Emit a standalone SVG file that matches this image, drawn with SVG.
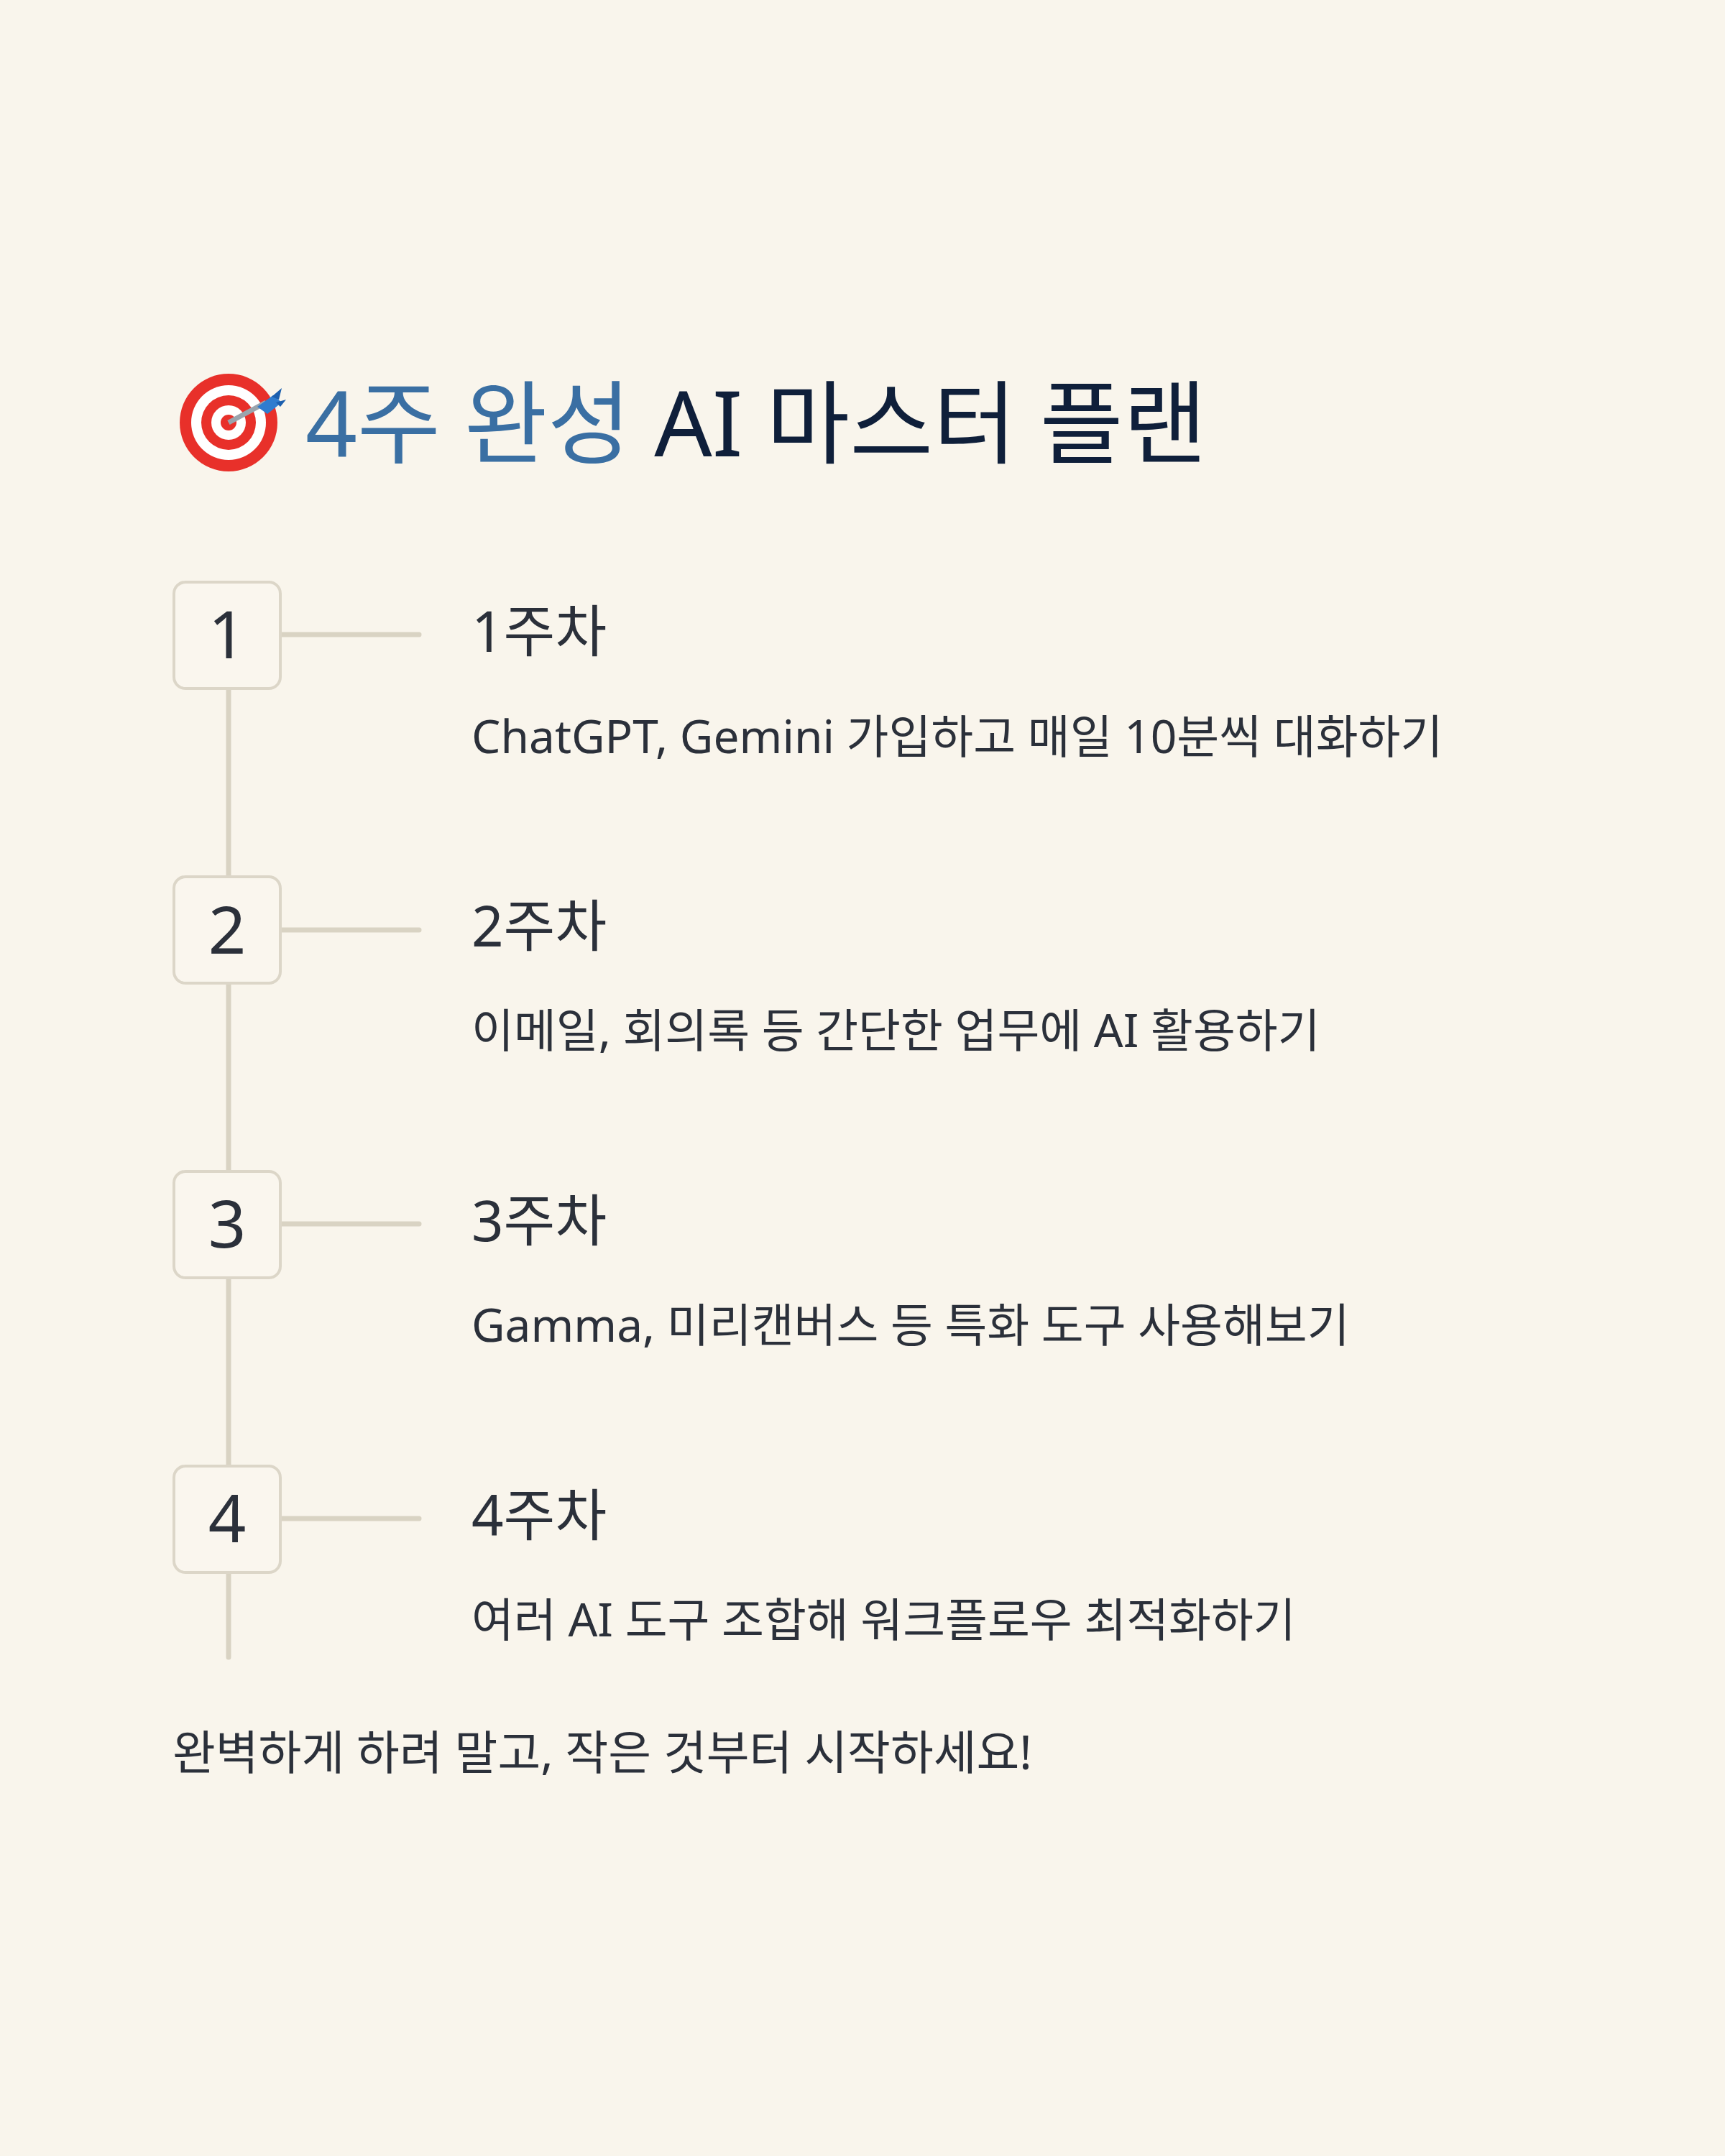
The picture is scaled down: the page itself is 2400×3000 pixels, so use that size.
<svg xmlns="http://www.w3.org/2000/svg" width="2400" height="3000" viewBox="0 0 2400 3000">
<style>
.box{fill:#faf6ee;stroke:#dcd6c8;stroke-width:4}
.ln{stroke:#d9d3c3;stroke-width:7;stroke-linecap:round;fill:none}
.num{font-family:"Noto Sans","Noto Sans CJK KR",sans-serif;font-size:92px;fill:#2b303a;text-anchor:middle}
.wk{font-family:"Noto Sans","Noto Sans CJK KR",sans-serif;font-size:78px;fill:#2b303a}
.ds{font-family:"Noto Sans","Noto Sans CJK KR",sans-serif;font-size:64px;fill:#2b303a}
.ft{font-family:"Noto Sans","Noto Sans CJK KR",sans-serif;font-size:65px;fill:#2b303a}
</style>
<rect width="2400" height="3000" fill="#f9f5ec"/>
<g id="title">
<g id="target">
<circle cx="318" cy="588" r="68" fill="#e8302a"/>
<circle cx="318" cy="588" r="52" fill="#fff"/>
<circle cx="318" cy="588" r="38" fill="#e8302a"/>
<circle cx="318" cy="588" r="24" fill="#fff"/>
<circle cx="318" cy="588" r="11" fill="#e8302a"/>
<line x1="318" y1="588" x2="370" y2="560" stroke="#9aa4ad" stroke-width="7"/>
<path d="M358 566 L380 550 L392 560 L372 576 Z" fill="#2f7ccf"/>
<path d="M378 552 L392 540 L388 556 Z M384 560 L398 556 L390 566 Z" fill="#1c5fae"/>
</g>
<text x="425" y="635" font-family="Noto Sans,'Noto Sans CJK KR',sans-serif" font-size="126" fill="#3a6fa3">4주 완성 <tspan fill="#0f1f3a">AI 마스터 플랜</tspan></text>
</g>
<g id="connectors">
<line class="ln" x1="318" y1="957" x2="318" y2="1218"/>
<line class="ln" x1="318" y1="1368" x2="318" y2="1628"/>
<line class="ln" x1="318" y1="1778" x2="318" y2="2038"/>
<line class="ln" x1="318" y1="2188" x2="318" y2="2306"/>
<line class="ln" x1="392" y1="883" x2="583" y2="883"/>
<line class="ln" x1="392" y1="1294" x2="583" y2="1294"/>
<line class="ln" x1="392" y1="1703" x2="583" y2="1703"/>
<line class="ln" x1="392" y1="2113" x2="583" y2="2113"/>
</g>
<g id="node1"><rect class="box" x="242" y="810" width="148" height="148" rx="16"/><text class="num" x="316" y="916">1</text>
<text class="wk" x="656" y="907">1주차</text><text class="ds" x="656" y="1048">ChatGPT, Gemini 가입하고 매일 10분씩 대화하기</text></g>
<g id="node2"><rect class="box" x="242" y="1220" width="148" height="148" rx="16"/><text class="num" x="316" y="1327">2</text>
<text class="wk" x="656" y="1317">2주차</text><text class="ds" x="656" y="1457">이메일, 회의록 등 간단한 업무에 AI 활용하기</text></g>
<g id="node3"><rect class="box" x="242" y="1630" width="148" height="148" rx="16"/><text class="num" x="316" y="1736">3</text>
<text class="wk" x="656" y="1727">3주차</text><text class="ds" x="656" y="1867">Gamma, 미리캔버스 등 특화 도구 사용해보기</text></g>
<g id="node4"><rect class="box" x="242" y="2040" width="148" height="148" rx="16"/><text class="num" x="316" y="2146">4</text>
<text class="wk" x="656" y="2137">4주차</text><text class="ds" x="656" y="2277">여러 AI 도구 조합해 워크플로우 최적화하기</text></g>
<text id="footer" class="ft" x="240" y="2462">완벽하게 하려 말고, 작은 것부터 시작하세요!</text>
</svg>
